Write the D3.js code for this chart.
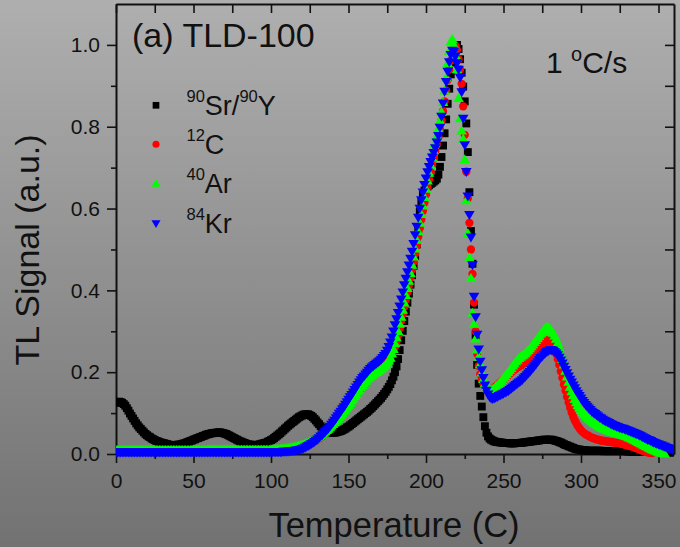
<!DOCTYPE html>
<html>
<head>
<meta charset="utf-8">
<script src="https://cdn.jsdelivr.net/npm/d3@7"></script>
<style>
  html, body { margin: 0; padding: 0; overflow: hidden; background: #909090; }
  svg { display: block; }
  text { font-family: "Liberation Sans", Arial, sans-serif; fill: #111; }
</style>
</head>
<body>
<svg id="chart" width="680" height="547"></svg>
<script>
// Temperatures (°C) at which the glow curves are sampled, one per degree
const temps = [
  0, 1, 2, 3, 4, 5, 6, 7, 8, 9,
  10, 11, 12, 13, 14, 15, 16, 17, 18, 19,
  20, 21, 22, 23, 24, 25, 26, 27, 28, 29,
  30, 31, 32, 33, 34, 35, 36, 37, 38, 39,
  40, 41, 42, 43, 44, 45, 46, 47, 48, 49,
  50, 51, 52, 53, 54, 55, 56, 57, 58, 59,
  60, 61, 62, 63, 64, 65, 66, 67, 68, 69,
  70, 71, 72, 73, 74, 75, 76, 77, 78, 79,
  80, 81, 82, 83, 84, 85, 86, 87, 88, 89,
  90, 91, 92, 93, 94, 95, 96, 97, 98, 99,
  100, 101, 102, 103, 104, 105, 106, 107, 108, 109,
  110, 111, 112, 113, 114, 115, 116, 117, 118, 119,
  120, 121, 122, 123, 124, 125, 126, 127, 128, 129,
  130, 131, 132, 133, 134, 135, 136, 137, 138, 139,
  140, 141, 142, 143, 144, 145, 146, 147, 148, 149,
  150, 151, 152, 153, 154, 155, 156, 157, 158, 159,
  160, 161, 162, 163, 164, 165, 166, 167, 168, 169,
  170, 171, 172, 173, 174, 175, 176, 177, 178, 179,
  180, 181, 182, 183, 184, 185, 186, 187, 188, 189,
  190, 191, 192, 193, 194, 195, 196, 197, 198, 199,
  200, 201, 202, 203, 204, 205, 206, 207, 208, 209,
  210, 211, 212, 213, 214, 215, 216, 217, 218, 219,
  220, 221, 222, 223, 224, 225, 226, 227, 228, 229,
  230, 231, 232, 233, 234, 235, 236, 237, 238, 239,
  240, 241, 242, 243, 244, 245, 246, 247, 248, 249,
  250, 251, 252, 253, 254, 255, 256, 257, 258, 259,
  260, 261, 262, 263, 264, 265, 266, 267, 268, 269,
  270, 271, 272, 273, 274, 275, 276, 277, 278, 279,
  280, 281, 282, 283, 284, 285, 286, 287, 288, 289,
  290, 291, 292, 293, 294, 295, 296, 297, 298, 299,
  300, 301, 302, 303, 304, 305, 306, 307, 308, 309,
  310, 311, 312, 313, 314, 315, 316, 317, 318, 319,
  320, 321, 322, 323, 324, 325, 326, 327, 328, 329,
  330, 331, 332, 333, 334, 335, 336, 337, 338, 339,
  340, 341, 342, 343, 344, 345, 346, 347, 348, 349,
  350, 351, 352, 353, 354, 355, 356, 357, 358, 359,
  360
];

// Normalised TL signal, 90Sr/90Y beta source
const srY = [
  .125, .127, .128, .127, .125, .122, .118, .112, .106, .099,
  .093, .087, .081, .075, .070, .065, .061, .057, .053, .049,
  .046, .043, .041, .038, .036, .034, .032, .031, .029, .028,
  .027, .026, .025, .024, .023, .022, .022, .022, .022, .022,
  .023, .023, .024, .025, .026, .027, .029, .030, .032, .033,
  .035, .036, .038, .039, .041, .042, .044, .045, .047, .048,
  .049, .050, .051, .051, .052, .052, .053, .053, .052, .051,
  .050, .049, .047, .045, .043, .041, .039, .037, .035, .033,
  .031, .030, .028, .027, .025, .024, .023, .023, .022, .022,
  .022, .022, .023, .024, .025, .026, .027, .028, .030, .032,
  .034, .036, .039, .042, .045, .048, .051, .055, .058, .062,
  .065, .069, .072, .075, .078, .081, .084, .087, .090, .092,
  .094, .096, .097, .097, .097, .095, .093, .090, .086, .082,
  .077, .073, .068, .064, .061, .058, .056, .054, .053, .052,
  .052, .052, .053, .054, .055, .056, .058, .060, .062, .065,
  .067, .070, .073, .076, .079, .082, .085, .088, .091, .094,
  .097, .100, .103, .106, .110, .113, .117, .121, .125, .129,
  .133, .137, .142, .147, .152, .158, .164, .171, .180, .189,
  .200, .214, .232, .254, .278, .301, .325, .348, .370, .392,
  .414, .437, .460, .484, .512, .548, .592, .618, .634, .644,
  .650, .654, .657, .660, .663, .666, .669, .673, .683, .702,
  .726, .754, .784, .818, .856, .893, .928, .957, .979, .994,
  1.000, .990, .965, .932, .898, .862, .808, .738, .640, .545,
  .465, .365, .290, .218, .172, .142, .116, .090, .068, .052,
  .043, .038, .035, .033, .031, .030, .029, .029, .028, .028,
  .027, .027, .027, .027, .026, .026, .026, .026, .027, .027,
  .027, .027, .028, .028, .029, .029, .030, .030, .031, .031,
  .032, .032, .033, .033, .034, .034, .035, .035, .035, .035,
  .035, .035, .034, .033, .032, .031, .029, .028, .026, .024,
  .022, .021, .019, .018, .016, .015, .013, .012, .011, .011,
  .010, .010, .009, .009, .008, .008, .008, .008, .008, .008,
  .008, .008, .008, .008, .007, .007, .007, .007, .007, .007,
  .007, .007, .007, .007, .007, .007, .007, .007, .007, .007,
  .006, .006, .006, .006, .006, .006, .006, .006, .006, .006,
  .006, .006, .006, .006, .005, .005, .005, .005, .005, .005,
  .005, .005, .005, .005, .005, .005, .004, .004, .004, .004,
  .004
];

// Normalised TL signal, 12C ions
const c12 = [
  .006, .006, .006, .006, .006, .006, .006, .006, .006, .006,
  .006, .006, .006, .006, .006, .006, .006, .006, .006, .006,
  .006, .006, .006, .006, .006, .006, .006, .006, .006, .006,
  .006, .006, .006, .006, .006, .006, .006, .006, .006, .006,
  .006, .006, .006, .006, .006, .006, .006, .006, .006, .006,
  .006, .006, .006, .006, .006, .006, .006, .006, .006, .006,
  .007, .007, .007, .007, .007, .007, .007, .007, .007, .007,
  .007, .007, .007, .007, .007, .007, .007, .007, .007, .007,
  .007, .007, .007, .007, .007, .007, .007, .007, .007, .007,
  .007, .007, .007, .007, .007, .007, .007, .007, .007, .007,
  .008, .008, .008, .008, .008, .008, .009, .009, .009, .009,
  .010, .010, .011, .011, .012, .012, .013, .014, .015, .016,
  .017, .018, .020, .021, .023, .025, .027, .029, .031, .033,
  .036, .038, .041, .044, .047, .050, .054, .057, .061, .065,
  .069, .073, .078, .082, .087, .092, .097, .102, .108, .113,
  .119, .125, .131, .136, .141, .146, .151, .156, .160, .165,
  .170, .175, .180, .184, .188, .192, .195, .198, .201, .204,
  .207, .210, .214, .218, .223, .228, .234, .240, .247, .254,
  .262, .275, .290, .307, .325, .342, .360, .377, .395, .413,
  .432, .451, .470, .490, .510, .531, .552, .573, .594, .614,
  .634, .653, .671, .689, .706, .723, .740, .757, .775, .794,
  .815, .838, .862, .888, .914, .940, .962, .980, .992, .998,
  .988, .965, .940, .905, .850, .780, .690, .625, .565, .500,
  .440, .370, .300, .245, .215, .195, .181, .172, .165, .160,
  .157, .156, .157, .159, .162, .165, .168, .171, .175, .178,
  .182, .185, .189, .192, .196, .199, .203, .206, .209, .212,
  .214, .216, .218, .221, .224, .227, .230, .233, .237, .241,
  .245, .249, .253, .256, .259, .264, .268, .273, .278, .278,
  .276, .271, .265, .256, .245, .232, .218, .202, .186, .170,
  .155, .140, .126, .113, .101, .091, .082, .075, .068, .063,
  .058, .054, .051, .048, .046, .044, .042, .040, .039, .037,
  .036, .035, .034, .033, .032, .032, .031, .030, .030, .029,
  .029, .028, .028, .027, .027, .026, .025, .024, .023, .022,
  .021, .020, .019, .018, .017, .015, .014, .012, .011, .009,
  .008, .006, .005, .004, .003, .002, .002, null, null, null,
  null, null, null, null, null, null, null, null, null, null,
  null
];

// Normalised TL signal, 40Ar ions
const ar40 = [
  .009, .009, .009, .009, .009, .009, .009, .009, .009, .009,
  .009, .009, .009, .009, .009, .009, .009, .009, .009, .009,
  .009, .009, .009, .009, .009, .009, .009, .009, .009, .009,
  .009, .009, .009, .009, .009, .009, .009, .009, .009, .009,
  .009, .009, .009, .009, .009, .009, .009, .009, .009, .009,
  .009, .009, .009, .009, .009, .009, .009, .009, .009, .009,
  .010, .010, .010, .010, .010, .010, .010, .010, .010, .010,
  .010, .010, .010, .010, .010, .010, .010, .010, .010, .010,
  .010, .010, .010, .010, .010, .010, .010, .010, .010, .010,
  .010, .010, .010, .010, .010, .010, .010, .010, .010, .010,
  .011, .011, .011, .011, .012, .012, .012, .013, .013, .013,
  .014, .014, .015, .015, .016, .017, .018, .019, .020, .021,
  .022, .023, .025, .026, .028, .030, .032, .034, .036, .038,
  .041, .043, .046, .049, .052, .055, .058, .061, .065, .069,
  .073, .077, .081, .085, .090, .094, .099, .104, .109, .114,
  .119, .124, .130, .135, .141, .146, .152, .157, .163, .168,
  .173, .178, .182, .186, .189, .192, .195, .198, .200, .203,
  .205, .208, .211, .214, .218, .223, .228, .235, .245, .256,
  .270, .285, .300, .318, .335, .352, .370, .388, .405, .423,
  .442, .462, .482, .502, .523, .544, .565, .586, .607, .628,
  .648, .668, .687, .706, .724, .742, .760, .778, .796, .815,
  .836, .860, .888, .920, .955, .985, 1.008, 1.014, 1.000, .975,
  .940, .870, .820, .790, .770, .720, .620, .540, .480, .430,
  .345, .318, .282, .255, .237, .219, .199, .183, .172, .165,
  .160, .158, .157, .158, .161, .165, .168, .172, .177, .181,
  .186, .190, .195, .200, .205, .210, .216, .221, .226, .230,
  .234, .237, .240, .243, .246, .250, .254, .258, .263, .268,
  .273, .278, .283, .288, .294, .299, .304, .308, .310, .309,
  .306, .301, .296, .289, .281, .271, .259, .246, .232, .218,
  .203, .189, .176, .164, .153, .143, .134, .126, .119, .113,
  .107, .102, .098, .094, .090, .086, .083, .080, .077, .074,
  .072, .069, .067, .065, .063, .061, .060, .058, .057, .055,
  .054, .053, .052, .051, .050, .049, .048, .046, .045, .044,
  .042, .040, .039, .037, .035, .033, .031, .029, .027, .025,
  .023, .021, .019, .017, .015, .013, .011, .009, .008, .006,
  .005, .004, .003, .002, .001, null, null, null, null, null,
  null
];

// Normalised TL signal, 84Kr ions
const kr84 = [
  .004, .004, .004, .004, .004, .004, .004, .004, .004, .004,
  .004, .004, .004, .004, .004, .004, .004, .004, .004, .004,
  .004, .004, .004, .004, .004, .004, .004, .004, .004, .004,
  .004, .004, .004, .004, .004, .004, .004, .004, .004, .004,
  .004, .004, .004, .004, .004, .004, .004, .004, .004, .004,
  .004, .004, .004, .004, .004, .004, .004, .004, .004, .004,
  .004, .004, .004, .004, .004, .004, .004, .004, .004, .004,
  .004, .004, .004, .004, .004, .004, .004, .004, .004, .004,
  .004, .004, .004, .004, .004, .004, .004, .004, .004, .004,
  .004, .004, .004, .004, .004, .004, .004, .004, .004, .004,
  .005, .005, .005, .005, .005, .005, .005, .005, .006, .006,
  .006, .006, .007, .007, .008, .008, .009, .009, .010, .011,
  .013, .014, .016, .018, .020, .022, .025, .027, .030, .033,
  .036, .039, .043, .046, .050, .054, .058, .062, .067, .072,
  .077, .082, .088, .093, .099, .104, .110, .115, .121, .127,
  .133, .139, .145, .151, .157, .163, .169, .175, .181, .186,
  .190, .195, .199, .204, .208, .212, .215, .218, .221, .224,
  .227, .231, .235, .240, .245, .253, .262, .273, .285, .300,
  .315, .330, .345, .361, .378, .395, .413, .429, .445, .461,
  .478, .495, .514, .535, .556, .578, .600, .621, .640, .658,
  .674, .689, .702, .714, .725, .736, .748, .762, .778, .798,
  .825, .857, .886, .910, .935, .958, .976, .986, .984, .972,
  .955, .940, .920, .885, .820, .755, .690, .630, .585, .530,
  .462, .385, .335, .292, .256, .226, .205, .186, .168, .155,
  .146, .140, .136, .135, .136, .138, .140, .142, .144, .146,
  .148, .150, .152, .154, .157, .160, .163, .166, .169, .172,
  .175, .178, .181, .185, .189, .193, .197, .201, .206, .210,
  .215, .220, .225, .230, .235, .239, .243, .247, .250, .252,
  .254, .254, .253, .250, .246, .242, .236, .229, .222, .214,
  .206, .198, .190, .182, .175, .168, .161, .154, .148, .142,
  .136, .130, .125, .120, .116, .112, .108, .104, .101, .098,
  .095, .092, .089, .087, .084, .082, .080, .078, .076, .074,
  .072, .070, .069, .067, .066, .064, .063, .062, .061, .059,
  .058, .056, .055, .053, .052, .050, .049, .047, .045, .043,
  .041, .039, .037, .035, .034, .032, .030, .028, .027, .025,
  .024, .022, .021, .019, .018, .016, .015, .013, .012, .011,
  .010
];

const xTicks = [0, 50, 100, 150, 200, 250, 300, 350];
const xMinorTicks = [25, 75, 125, 175, 225, 275, 325];
const yTicks = [0.0, 0.2, 0.4, 0.6, 0.8, 1.0];
const yMinorTicks = [0.1, 0.3, 0.5, 0.7, 0.9];
const topTicks = [0, 25, 50, 75, 100, 125, 150, 175, 200, 225, 250, 275, 300, 325, 350];
const rightTicks = [0.0, 0.1, 0.2, 0.3, 0.4, 0.5, 0.6, 0.7, 0.8, 0.9, 1.0];

// Legend entries: [text, isSuperscript] pieces
const seriesInfo = [
  { values: srY,  color: "#000000", shape: "square",  label: [["90", true], ["Sr/", false], ["90", true], ["Y", false]] },
  { values: c12,  color: "#ff0000", shape: "circle",  label: [["12", true], ["C", false]] },
  { values: ar40, color: "#00ff00", shape: "triUp",   label: [["40", true], ["Ar", false]] },
  { values: kr84, color: "#0000ff", shape: "triDown", label: [["84", true], ["Kr", false]] }
];

seriesInfo.forEach(s => {
  if (s.values.length !== temps.length) console.error("length mismatch", s.values.length, temps.length);
});

const W = 680, H = 547;
const plot = { left: 116, right: 674, top: 4, bottom: 454 };

const svg = d3.select("#chart");

// Background: vertical grey gradient
const defs = svg.append("defs");
const grad = defs.append("linearGradient")
  .attr("id", "bg").attr("x1", 0).attr("y1", 0).attr("x2", 0).attr("y2", 1);
grad.append("stop").attr("offset", "0%").attr("stop-color", "#afafaf");
grad.append("stop").attr("offset", "100%").attr("stop-color", "#727272");
svg.append("rect").attr("width", W).attr("height", H).attr("fill", "url(#bg)");

defs.append("clipPath").attr("id", "plotClip")
  .append("rect")
  .attr("x", plot.left).attr("y", 0)
  .attr("width", plot.right - plot.left).attr("height", plot.bottom + 8);

const x = d3.scaleLinear().domain([0, 360]).range([plot.left, plot.right]);
const y = d3.scaleLinear().domain([0, 1.1]).range([plot.bottom, plot.top]);

const axisColor = "#111";

function styleAxis(g) {
  g.selectAll(".domain").attr("stroke", axisColor).attr("stroke-width", 2);
  g.selectAll(".tick line").attr("stroke", axisColor).attr("stroke-width", 1.6);
  g.selectAll(".tick text")
    .style("font-family", "'Liberation Sans', Arial, sans-serif")
    .style("font-size", "21px")
    .attr("fill", "#111");
}

// Bottom axis
svg.append("g")
  .attr("transform", `translate(0,${plot.bottom})`)
  .call(d3.axisBottom(x).tickValues(xTicks).tickSize(9).tickSizeOuter(0).tickPadding(10).tickFormat(d3.format("d")))
  .call(styleAxis);
svg.append("g")
  .attr("transform", `translate(0,${plot.bottom})`)
  .call(d3.axisBottom(x).tickValues(xMinorTicks).tickSize(5).tickSizeOuter(0).tickFormat(""))
  .call(styleAxis)
  .call(g => g.select(".domain").remove());

// Left axis
svg.append("g")
  .attr("transform", `translate(${plot.left},0)`)
  .call(d3.axisLeft(y).tickValues(yTicks).tickSize(9).tickSizeOuter(0).tickPadding(7).tickFormat(d3.format(".1f")))
  .call(styleAxis);
svg.append("g")
  .attr("transform", `translate(${plot.left},0)`)
  .call(d3.axisLeft(y).tickValues(yMinorTicks).tickSize(5).tickSizeOuter(0).tickFormat(""))
  .call(styleAxis)
  .call(g => g.select(".domain").remove());

// Top frame with inward ticks
svg.append("g")
  .attr("transform", `translate(0,${plot.top})`)
  .call(d3.axisBottom(x).tickValues(topTicks).tickSize(9).tickSizeOuter(0).tickFormat(""))
  .call(styleAxis);

// Right frame with inward ticks
svg.append("g")
  .attr("transform", `translate(${plot.right},0)`)
  .call(d3.axisLeft(y).tickValues(rightTicks).tickSize(9).tickSizeOuter(0).tickFormat(""))
  .call(styleAxis);

// Marker shapes
const shapes = {
  square: d3.symbol(d3.symbolSquare, 62)(),
  circle: d3.symbol(d3.symbolCircle, 54)(),
  triUp: "M0,-5.2L5.3,3.8L-5.3,3.8Z",
  triDown: "M0,5.2L5.3,-3.8L-5.3,-3.8Z"
};

// Data markers, drawn in legend order so the last series is on top
const markers = svg.append("g").attr("clip-path", "url(#plotClip)");
seriesInfo.forEach(s => {
  const pts = temps.map((t, i) => [t, s.values[i]]).filter(d => d[1] != null);
  markers.append("g")
    .selectAll("path")
    .data(pts)
    .join("path")
    .attr("transform", d => `translate(${x(d[0])},${y(d[1])})`)
    .attr("d", shapes[s.shape])
    .attr("fill", s.color);
});

// Panel title
svg.append("text")
  .attr("x", 132).attr("y", 46.5)
  .style("font-size", "34px")
  .text("(a) TLD-100");

// Heating rate
const rate = svg.append("text")
  .attr("x", 546).attr("y", 72.5)
  .style("font-size", "30px");
rate.append("tspan").text("1 ");
rate.append("tspan").attr("dy", -11.5).style("font-size", "20px").text("o");
rate.append("tspan").attr("dy", 11.5).text("C/s");

// Legend
const legend = svg.append("g");
const legendMarkerX = 156;
const legendRowY = [105.3, 144.3, 183.5, 223.5];
const legendBase = [115, 153.8, 193.2, 232.5];
seriesInfo.forEach((s, i) => {
  legend.append("path")
    .attr("transform", `translate(${legendMarkerX},${legendRowY[i]}) scale(0.85)`)
    .attr("d", shapes[s.shape])
    .attr("fill", s.color);
  const t = legend.append("text")
    .attr("x", 186.5).attr("y", legendBase[i])
    .style("font-size", "27px");
  let raised = false;
  s.label.forEach(([str, sup]) => {
    const ts = t.append("tspan").text(str);
    if (sup && !raised) { ts.attr("dy", -13).style("font-size", "16.5px"); raised = true; }
    else if (sup && raised) { ts.style("font-size", "16.5px"); }
    else if (!sup && raised) { ts.attr("dy", 13); raised = false; }
  });
});

// Axis titles
svg.append("text")
  .attr("x", (plot.left + plot.right) / 2 - 1).attr("y", 537)
  .attr("text-anchor", "middle")
  .style("font-size", "34.5px")
  .text("Temperature (C)");

svg.append("text")
  .attr("transform", "translate(39,250) rotate(-90)")
  .attr("text-anchor", "middle")
  .style("font-size", "34px")
  .text("TL Signal (a.u.)");
</script>
</body>
</html>
